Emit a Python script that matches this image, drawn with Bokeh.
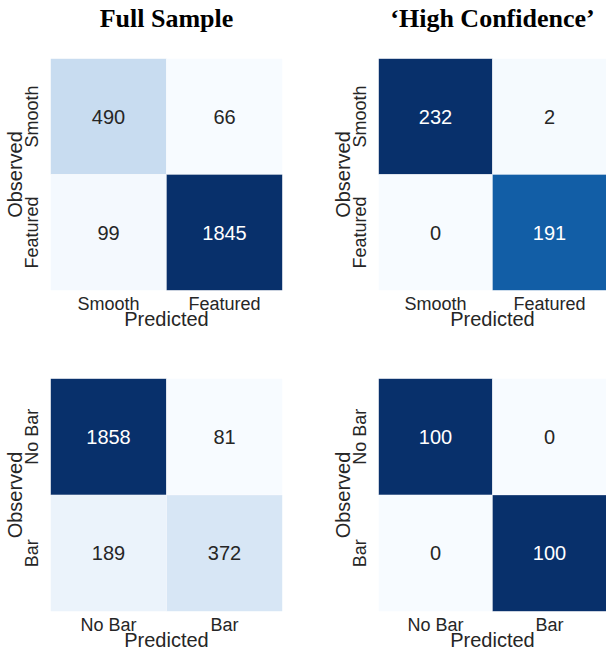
from bokeh.plotting import figure
from bokeh.layouts import gridplot
from bokeh.models import ColumnDataSource, LinearColorMapper, FactorRange, Title
from bokeh.palettes import Blues256
from bokeh.transform import transform
from bokeh.core.properties import value
from bokeh.embed import file_html
from bokeh.resources import INLINE

# ---- data (rows = observed class, columns = predicted class) ----
morph_classes = ["Smooth", "Featured"]
bar_classes = ["No Bar", "Bar"]
col_titles = ["Full Sample", "\u2018High Confidence\u2019"]

full_morph = [[490, 66], [99, 1845]]
conf_morph = [[232, 2], [0, 191]]
full_bar = [[1858, 81], [189, 372]]
conf_bar = [[100, 0], [0, 100]]

SANS = "Liberation Sans"
TXT = "#262626"


def panel(matrix, classes, title, left_col, top_row):
    obs, pred, vals, labels = [], [], [], []
    for i, o in enumerate(classes):
        for j, pc in enumerate(classes):
            obs.append(o)
            pred.append(pc)
            vals.append(matrix[i][j])
            labels.append(str(matrix[i][j]))
    src = ColumnDataSource(dict(obs=obs, pred=pred, val=vals, label=labels))
    lo, hi = min(vals), max(vals)
    cmap = LinearColorMapper(palette=list(Blues256[::-1]), low=lo, high=hi)
    tmap = LinearColorMapper(palette=[TXT, "#ffffff"], low=lo, high=hi)

    p = figure(
        x_range=FactorRange(*classes),
        y_range=FactorRange(*classes[::-1]),
        frame_width=232 if left_col else 228,
        frame_height=232 if top_row else 233,
        min_border_left=49,
        min_border_right=46 if left_col else 0,
        min_border_top=58 if top_row else 46,
        min_border_bottom=42,
        toolbar_location=None,
        tools="",
        output_backend="svg",
    )
    p.outline_line_color = None
    p.grid.visible = False
    p.rect(x="pred", y="obs", width=1, height=1, source=src,
           fill_color=transform("val", cmap),
           line_color="white", line_width=0.5, line_alpha=0.6)
    p.text(x="pred", y="obs", text="label", source=src,
           text_align="center", text_baseline="middle",
           text_font=value(SANS), text_font_size="20px",
           text_color=transform("val", tmap))

    for ax in (p.xaxis[0], p.yaxis[0]):
        ax.major_tick_line_color = None
        ax.major_tick_out = 0
        ax.major_tick_in = 0
        ax.minor_tick_out = 0
        ax.minor_tick_in = 0
        ax.minor_tick_line_color = None
        ax.axis_line_color = None
        ax.major_label_text_font = SANS
        ax.major_label_text_font_size = "18px"
        ax.major_label_text_color = TXT
        ax.axis_label_text_font = SANS
        ax.axis_label_text_font_size = "20px"
        ax.axis_label_text_font_style = "normal"
        ax.axis_label_text_color = TXT
    p.xaxis.axis_label = "Predicted"
    p.yaxis.axis_label = "Observed"
    p.yaxis.major_label_orientation = "vertical"
    p.xaxis.major_label_standoff = 3
    p.xaxis.axis_label_standoff = -9
    p.yaxis.major_label_standoff = 9
    p.yaxis.axis_label_standoff = -7

    if title:
        # spacer between the frame and the title
        p.add_layout(Title(text=" ", text_font_size="1px", standoff=23), "above")
        p.add_layout(Title(text=title, text_font="Liberation Serif",
                           text_font_style="bold", text_font_size="26px",
                           text_color="black", align="center", standoff=0),
                     "above")
    return p


p1 = panel(full_morph, morph_classes, col_titles[0], True, True)
p2 = panel(conf_morph, morph_classes, col_titles[1], False, True)
p3 = panel(full_bar, bar_classes, None, True, False)
p4 = panel(conf_bar, bar_classes, None, False, False)

grid = gridplot([[p1, p2], [p3, p4]], toolbar_location=None)

open("out.html", "w").write(file_html(grid, INLINE))
